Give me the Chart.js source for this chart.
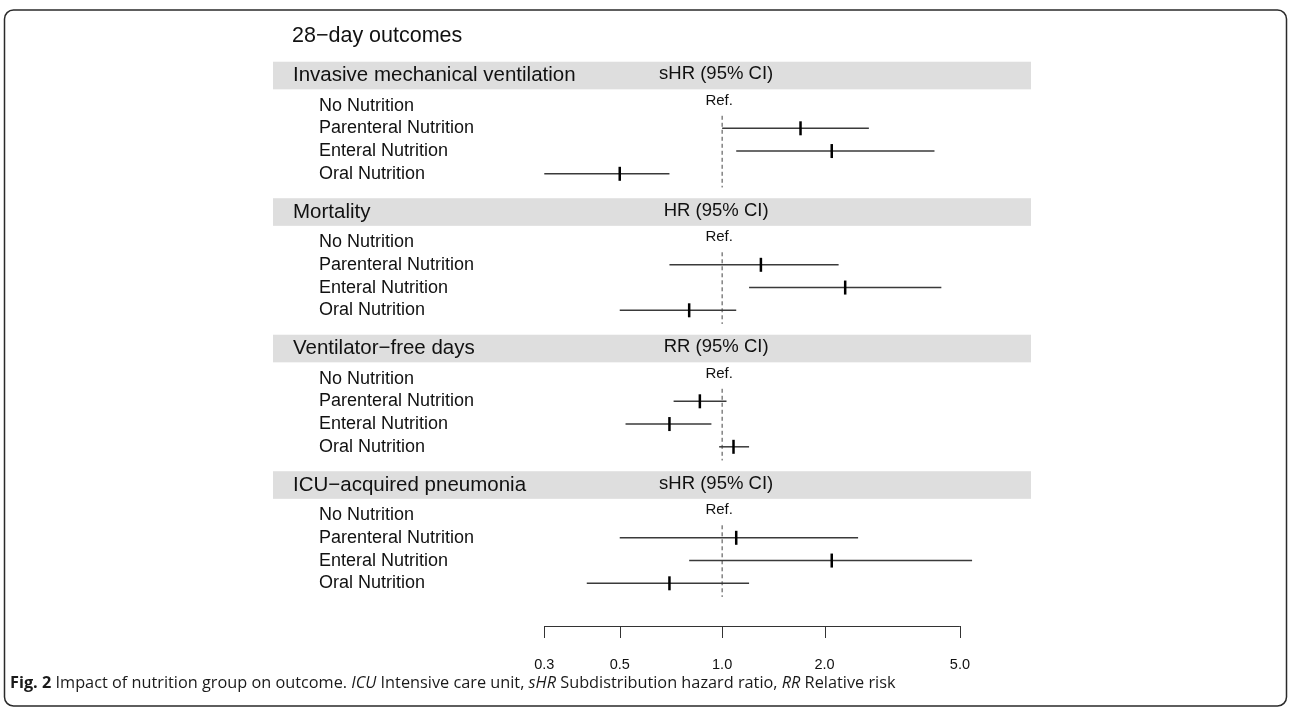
<!DOCTYPE html>
<html>
<head>
<meta charset="utf-8">
<script src="https://cdn.jsdelivr.net/npm/chart.js@4"></script>
<style>
  html, body { margin: 0; padding: 0; background: #fff; }
  #wrap { width: 1290px; height: 713px; position: relative; }
</style>
</head>
<body>
<div id="wrap"><canvas id="forest" width="1290" height="713"></canvas></div>
<script>
// 28-day outcomes, one block per outcome
const outcomes = ['Invasive mechanical ventilation', 'Mortality', 'Ventilator\u2212free days', 'ICU\u2212acquired pneumonia'];
const measures = ['sHR (95% CI)', 'HR (95% CI)', 'RR (95% CI)', 'sHR (95% CI)'];
const groups = ['No Nutrition', 'Parenteral Nutrition', 'Enteral Nutrition', 'Oral Nutrition'];

// estimates per outcome (No Nutrition is the reference)
const imvEst = [null, 1.70, 2.10, 0.50];
const imvLow = [null, 1.00, 1.10, 0.30];
const imvHigh = [null, 2.70, 4.21, 0.70];

const mortEst = [null, 1.30, 2.30, 0.80];
const mortLow = [null, 0.70, 1.20, 0.50];
const mortHigh = [null, 2.20, 4.41, 1.10];

const vfdEst = [null, 0.86, 0.70, 1.08];
const vfdLow = [null, 0.72, 0.52, 0.98];
const vfdHigh = [null, 1.03, 0.93, 1.20];

const pneuEst = [null, 1.10, 2.10, 0.70];
const pneuLow = [null, 0.50, 0.80, 0.40];
const pneuHigh = [null, 2.51, 5.43, 1.20];

const refValue = 1.0;
const axisTicks = [0.3, 0.5, 1.0, 2.0, 5.0];

const est = [imvEst, mortEst, vfdEst, pneuEst];
const low = [imvLow, mortLow, vfdLow, pneuLow];
const high = [imvHigh, mortHigh, vfdHigh, pneuHigh];

const ROWS_PER_BLOCK = 6;
const rowOf = (b, g) => b * ROWS_PER_BLOCK + g + 1;

const TEXT = '#111';
const SANS = '"Liberation Sans", Arial, Helvetica, sans-serif';

// build datasets
const datasets = [];
outcomes.forEach((o, b) => {
  // dashed reference line
  datasets.push({
    type: 'line',
    data: [{ x: refValue, y: b * ROWS_PER_BLOCK + 1.45 }, { x: refValue, y: b * ROWS_PER_BLOCK + 4.6 }],
    borderColor: '#444',
    borderWidth: 1,
    borderDash: [4, 3],
    pointRadius: 0,
    order: 3
  });
  groups.forEach((g, i) => {
    if (est[b][i] == null) return;
    datasets.push({
      type: 'line',
      data: [{ x: low[b][i], y: rowOf(b, i) }, { x: high[b][i], y: rowOf(b, i) }],
      borderColor: '#3a3a3a',
      borderWidth: 1.5,
      pointRadius: 0,
      order: 2
    });
  });
});

const points = [];
outcomes.forEach((o, b) => {
  groups.forEach((g, i) => {
    if (est[b][i] != null) points.push({ x: est[b][i], y: rowOf(b, i) });
  });
});
datasets.push({
  type: 'scatter',
  data: points,
  pointStyle: 'line',
  rotation: 90,
  pointRadius: 7,
  pointHoverRadius: 7,
  borderColor: '#000',
  borderWidth: 2.5,
  order: 1
});

const decor = {
  id: 'decor',
  beforeDatasetsDraw(chart) {
    const ctx = chart.ctx;
    const ys = chart.scales.y;
    ctx.save();
    ctx.fillStyle = '#dedede';
    outcomes.forEach((o, b) => {
      const cy = ys.getPixelForValue(b * ROWS_PER_BLOCK - 0.32);
      ctx.fillRect(273, cy - 13.8, 758, 27.6);
    });
    ctx.restore();
  },
  afterDraw(chart) {
    const ctx = chart.ctx;
    const xs = chart.scales.x;
    const ys = chart.scales.y;
    const xRef = xs.getPixelForValue(refValue);
    ctx.save();

    // frame
    ctx.strokeStyle = '#2a2a2a';
    ctx.lineWidth = 1.5;
    ctx.beginPath();
    ctx.roundRect(4.5, 10, 1282, 696, 9);
    ctx.stroke();

    ctx.fillStyle = TEXT;
    ctx.textBaseline = 'middle';

    // title
    ctx.font = '21.5px ' + SANS;
    ctx.textAlign = 'left';
    ctx.fillText('28\u2212day outcomes', 292, 36);

    outcomes.forEach((o, b) => {
      const cy = ys.getPixelForValue(b * ROWS_PER_BLOCK - 0.32);
      ctx.font = '20.5px ' + SANS;
      ctx.textAlign = 'left';
      ctx.fillText(o, 293, cy);
      ctx.font = '18.5px ' + SANS;
      ctx.textAlign = 'center';
      ctx.fillText(measures[b], xRef - 6, cy - 1.5);

      groups.forEach((g, i) => {
        const y = ys.getPixelForValue(rowOf(b, i));
        ctx.font = '18px ' + SANS;
        ctx.textAlign = 'left';
        ctx.fillText(g, 319, y);
        if (est[b][i] == null) {
          ctx.font = '15px ' + SANS;
          ctx.textAlign = 'center';
          ctx.fillText('Ref.', xRef - 3, y - 5);
        }
      });
    });

    // bottom axis
    const axY = 626;
    ctx.strokeStyle = '#333';
    ctx.lineWidth = 1;
    ctx.beginPath();
    ctx.moveTo(xs.getPixelForValue(axisTicks[0]), axY + 0.5);
    ctx.lineTo(xs.getPixelForValue(axisTicks[axisTicks.length - 1]), axY + 0.5);
    axisTicks.forEach(t => {
      const px = Math.round(xs.getPixelForValue(t)) + 0.5;
      ctx.moveTo(px, axY);
      ctx.lineTo(px, axY + 12);
    });
    ctx.stroke();
    ctx.font = '14.5px ' + SANS;
    ctx.textAlign = 'center';
    axisTicks.forEach(t => {
      ctx.fillText(t.toFixed(1), xs.getPixelForValue(t), 665);
    });

    // caption
    const parts = [
      ['bold', 'Fig. 2'],
      ['normal', ' Impact of nutrition group on outcome. '],
      ['italic', 'ICU'],
      ['normal', ' Intensive care unit, '],
      ['italic', 'sHR'],
      ['normal', ' Subdistribution hazard ratio, '],
      ['italic', 'RR'],
      ['normal', ' Relative risk']
    ];
    ctx.textAlign = 'left';
    ctx.fillStyle = '#1a1a1a';
    let cx = 10;
    parts.forEach(([w, s]) => {
      ctx.font = (w === 'bold' ? 'bold ' : w === 'italic' ? 'italic ' : '') + '16.3px "Open Sans", "Noto Sans", sans-serif';
      ctx.fillText(s, cx, 683);
      cx += ctx.measureText(s).width;
    });
    ctx.restore();
  }
};

// 340 px per decade, 0.3 at 544px, 5.0 at 960px
new Chart(document.getElementById('forest'), {
  type: 'scatter',
  data: { datasets },
  options: {
    responsive: false,
    animation: false,
    layout: { padding: 0, autoPadding: false },
    plugins: { legend: { display: false }, tooltip: { enabled: false } },
    scales: {
      x: {
        type: 'logarithmic',
        display: false,
        bounds: 'data',
        min: 0.0075345,
        max: 46.71
      },
      y: {
        type: 'linear',
        display: false,
        reverse: true,
        min: -3.6396,
        max: 27.701
      }
    }
  },
  plugins: [decor]
});
</script>
</body>
</html>
